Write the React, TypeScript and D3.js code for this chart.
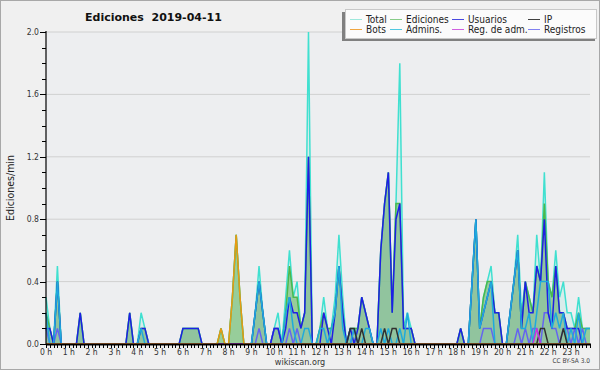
import React from "react";
import * as d3 from "d3";

const W = 600;
const H = 370;

const hours = d3.range(24);
const hourLabels = hours.map((h) => `${h} h`);
const yMajor = [0, 0.4, 0.8, 1.2, 1.6, 2.0];
const yMinor = d3.range(0, 21).map((v) => v / 10);

// values per 10-minute slot (6 per hour), edits per minute
const total = [
  0.3, 0.1, 0, 0.5, 0, 0,
  0, 0, 0, 0.2, 0, 0,
  0, 0, 0, 0, 0, 0,
  0, 0, 0, 0, 0.2, 0,
  0, 0.2, 0.1, 0, 0, 0,
  0, 0, 0, 0, 0, 0,
  0.1, 0.1, 0.1, 0.1, 0.1, 0,
  0, 0, 0, 0, 0.1, 0,
  0, 0.3, 0.7, 0.3, 0, 0,
  0, 0.2, 0.5, 0.2, 0, 0,
  0.1, 0.2, 0, 0.3, 0.6, 0.3,
  0.4, 0.1, 0.2, 2.0, 0, 0,
  0.1, 0.3, 0.1, 0.1, 0.3, 0.7,
  0.3, 0, 0.1, 0.1, 0.1, 0.3,
  0.2, 0.1, 0, 0, 0.6, 0.9,
  1.1, 0.2, 0.9, 1.8, 0.1, 0.2,
  0.1, 0, 0, 0, 0, 0,
  0, 0, 0, 0, 0, 0,
  0, 0.1, 0, 0, 0.4, 0.8,
  0.1, 0.3, 0.4, 0.5, 0.2, 0.2,
  0, 0, 0.2, 0.4, 0.7, 0.2,
  0.4, 0.3, 0.2, 0.7, 0.4, 1.1,
  0.4, 0.3, 0.6, 0.3, 0.4, 0.2,
  0.2, 0.1, 0.3, 0.1, 0.1, 0.1,
];

const edits = [
  0.2, 0.1, 0, 0.4, 0, 0,
  0, 0, 0, 0.2, 0, 0,
  0, 0, 0, 0, 0, 0,
  0, 0, 0, 0, 0.2, 0,
  0, 0.1, 0.1, 0, 0, 0,
  0, 0, 0, 0, 0, 0,
  0.1, 0.1, 0.1, 0.1, 0.1, 0,
  0, 0, 0, 0, 0.1, 0,
  0, 0.3, 0.7, 0.3, 0, 0,
  0, 0.2, 0.4, 0.2, 0, 0,
  0.1, 0.1, 0, 0.2, 0.5, 0.3,
  0.3, 0.1, 0.2, 1.2, 0, 0,
  0.1, 0.2, 0.1, 0.1, 0.2, 0.5,
  0.2, 0, 0.1, 0.1, 0.1, 0.3,
  0.2, 0.1, 0, 0, 0.6, 0.9,
  1.1, 0.2, 0.9, 0.9, 0.1, 0.1,
  0.1, 0, 0, 0, 0, 0,
  0, 0, 0, 0, 0, 0,
  0, 0.1, 0, 0, 0.4, 0.8,
  0.1, 0.3, 0.4, 0.4, 0.2, 0.2,
  0, 0, 0.2, 0.4, 0.6, 0.1,
  0.4, 0.3, 0.2, 0.5, 0.4, 0.9,
  0.4, 0.3, 0.5, 0.2, 0.2, 0.1,
  0.1, 0.1, 0.2, 0.1, 0.1, 0.1,
];

const users = [
  0.1, 0.1, 0, 0.4, 0, 0,
  0, 0, 0, 0.2, 0, 0,
  0, 0, 0, 0, 0, 0,
  0, 0, 0, 0, 0.2, 0,
  0, 0.1, 0.1, 0, 0, 0,
  0, 0, 0, 0, 0, 0,
  0.1, 0.1, 0.1, 0.1, 0.1, 0,
  0, 0, 0, 0, 0, 0,
  0, 0, 0, 0, 0, 0,
  0, 0.2, 0.4, 0.2, 0, 0,
  0.1, 0.1, 0, 0.1, 0.3, 0.2,
  0.2, 0.1, 0.2, 1.2, 0, 0,
  0, 0.2, 0.1, 0, 0.2, 0.5,
  0.2, 0, 0.1, 0, 0.1, 0.3,
  0.2, 0.1, 0, 0, 0.6, 0.9,
  1.1, 0.2, 0.8, 0.9, 0.1, 0.1,
  0.1, 0, 0, 0, 0, 0,
  0, 0, 0, 0, 0, 0,
  0, 0.1, 0, 0, 0.4, 0.8,
  0.1, 0.2, 0.3, 0.4, 0.2, 0.2,
  0, 0, 0.2, 0.4, 0.6, 0.1,
  0.4, 0.2, 0.2, 0.5, 0.4, 0.8,
  0.2, 0.1, 0.5, 0.2, 0.2, 0.1,
  0.1, 0.1, 0.1, 0, 0, 0,
];

const ip = [
  0, 0, 0, 0, 0, 0,
  0, 0, 0, 0, 0, 0,
  0, 0, 0, 0, 0, 0,
  0, 0, 0, 0, 0, 0,
  0, 0, 0, 0, 0, 0,
  0, 0, 0, 0, 0, 0,
  0, 0, 0, 0, 0, 0,
  0, 0, 0, 0, 0, 0,
  0, 0, 0, 0, 0, 0,
  0, 0, 0, 0, 0, 0,
  0, 0, 0, 0, 0, 0,
  0, 0, 0, 0, 0, 0,
  0, 0, 0, 0, 0, 0,
  0, 0, 0.1, 0.1, 0, 0.1,
  0, 0, 0, 0, 0, 0.1,
  0, 0.1, 0.1, 0, 0, 0,
  0, 0, 0, 0, 0, 0,
  0, 0, 0, 0, 0, 0,
  0, 0, 0, 0, 0, 0,
  0, 0, 0, 0, 0, 0,
  0, 0, 0, 0, 0, 0,
  0, 0, 0, 0, 0.1, 0.1,
  0, 0, 0, 0, 0.1, 0,
  0, 0, 0, 0, 0, 0,
];

const bots = [
  0, 0, 0, 0, 0, 0,
  0, 0, 0, 0, 0, 0,
  0, 0, 0, 0, 0, 0,
  0, 0, 0, 0, 0, 0,
  0, 0, 0, 0, 0, 0,
  0, 0, 0, 0, 0, 0,
  0, 0, 0, 0, 0, 0,
  0, 0, 0, 0, 0.1, 0,
  0, 0.3, 0.7, 0.3, 0, 0,
  0, 0, 0, 0, 0, 0,
  0, 0, 0, 0, 0, 0,
  0, 0, 0, 0, 0, 0,
  0, 0, 0, 0, 0, 0,
  0, 0, 0, 0, 0, 0,
  0, 0, 0, 0, 0, 0,
  0, 0, 0, 0, 0, 0,
  0, 0, 0, 0, 0, 0,
  0, 0, 0, 0, 0, 0,
  0, 0, 0, 0, 0, 0,
  0, 0, 0, 0, 0, 0,
  0, 0, 0, 0, 0, 0,
  0, 0, 0, 0, 0, 0,
  0, 0, 0, 0, 0, 0,
  0, 0, 0, 0, 0, 0,
];

const admins = [
  0.2, 0, 0, 0.4, 0, 0,
  0, 0, 0, 0, 0, 0,
  0, 0, 0, 0, 0, 0,
  0, 0, 0, 0, 0, 0,
  0, 0.1, 0, 0, 0, 0,
  0, 0, 0, 0, 0, 0,
  0, 0, 0, 0, 0, 0,
  0, 0, 0, 0, 0, 0,
  0, 0, 0, 0, 0, 0,
  0, 0.2, 0.4, 0.2, 0, 0,
  0, 0, 0, 0.2, 0.3, 0.1,
  0, 0, 0.1, 0.1, 0, 0,
  0.1, 0.1, 0, 0.1, 0.2, 0.5,
  0.1, 0, 0, 0.1, 0, 0,
  0.1, 0.1, 0, 0, 0.1, 0,
  0.1, 0, 0, 0.1, 0, 0.2,
  0, 0, 0, 0, 0, 0,
  0, 0, 0, 0, 0, 0,
  0, 0, 0, 0, 0.4, 0.8,
  0.1, 0.2, 0.3, 0.4, 0, 0,
  0, 0, 0.2, 0.4, 0.6, 0.1,
  0.1, 0.2, 0, 0.2, 0.4, 0.4,
  0.4, 0.1, 0.2, 0.1, 0.2, 0,
  0.1, 0, 0.2, 0, 0.1, 0.1,
];

const regAdm = [
  0, 0, 0, 0, 0, 0,
  0, 0, 0, 0, 0, 0,
  0, 0, 0, 0, 0, 0,
  0, 0, 0, 0, 0, 0,
  0, 0, 0, 0, 0, 0,
  0, 0, 0, 0, 0, 0,
  0, 0, 0, 0, 0, 0,
  0, 0, 0, 0, 0, 0,
  0, 0, 0, 0, 0, 0,
  0, 0, 0, 0, 0, 0,
  0, 0, 0, 0, 0, 0,
  0, 0, 0, 0, 0, 0,
  0, 0, 0, 0, 0, 0,
  0, 0, 0, 0, 0, 0,
  0, 0, 0, 0, 0, 0,
  0, 0, 0, 0, 0, 0,
  0, 0, 0, 0, 0, 0,
  0, 0, 0, 0, 0, 0,
  0, 0, 0, 0, 0, 0,
  0, 0, 0, 0, 0, 0,
  0, 0, 0, 0, 0, 0,
  0, 0, 0, 0.1, 0, 0,
  0, 0, 0, 0, 0, 0,
  0, 0, 0, 0, 0, 0,
];

const registros = [
  0.1, 0, 0, 0.1, 0, 0,
  0, 0, 0, 0, 0, 0,
  0, 0, 0, 0, 0, 0,
  0, 0, 0, 0, 0, 0,
  0, 0, 0, 0, 0, 0,
  0, 0, 0, 0, 0, 0,
  0, 0, 0, 0, 0, 0,
  0, 0, 0, 0, 0, 0,
  0, 0, 0, 0, 0, 0,
  0, 0, 0.1, 0, 0, 0,
  0.1, 0.1, 0, 0, 0.1, 0,
  0.1, 0, 0, 0, 0, 0,
  0, 0, 0, 0, 0, 0,
  0, 0, 0, 0.1, 0, 0,
  0, 0, 0, 0, 0, 0,
  0, 0, 0, 0, 0, 0,
  0, 0, 0, 0, 0, 0,
  0, 0, 0, 0, 0, 0,
  0, 0, 0, 0, 0, 0,
  0, 0.1, 0.1, 0.1, 0, 0,
  0, 0, 0, 0, 0.1, 0,
  0.1, 0, 0.1, 0.1, 0, 0.2,
  0.2, 0.1, 0.1, 0, 0.1, 0.1,
  0, 0.1, 0, 0.1, 0, 0,
];

const seriesNames = ["Total", "Ediciones", "Usuarios", "IP", "Bots", "Admins.", "Reg. de adm.", "Registros"];
const seriesColors = ["#40e0d0", "#4cb84c", "#1e1ee6", "#303030", "#e89a14", "#1eaadc", "#c832dc", "#6464f0"];
const legendColors = ["#9ee8dc", "#88cc88", "#4a4ae0", "#404040", "#f0a640", "#50c8e0", "#d060e0", "#8080f0"];

const PL = 46, PR = 590, PT = 32, PB = 344;

export default function App() {
  const n = total.length;
  const x = d3.scaleLinear().domain([0, n - 1]).range([PL, PR]);
  const y = d3.scaleLinear().domain([0, 2.0]).range([PB, PT]);
  const line = d3.line<number>().x((_, i) => x(i)).y((d) => y(d));
  const area = d3.area<number>().x((_, i) => x(i)).y0(y(0)).y1((d) => y(d));

  const data = [total, edits, users, ip, bots, admins, regAdm, registros];
  // drawing order for lines
  const order = [0, 1, 7, 2, 5, 3, 6, 4];

  const small = "'DejaVu Sans Condensed', 'DejaVu Sans', sans-serif";
  const legendCols = [350, 390, 452, 528];
  const legendRows = [19, 29];

  return (
    <div style={{ position: "absolute", left: 0, top: 0 }}>
      <svg width={W} height={H} style={{ display: "block" }}>
        <rect x={0.5} y={0.5} width={W - 1} height={H - 1} fill="#f0f0f0" stroke="#a8a8a8" />
        <rect x={PL} y={PT} width={PR - PL} height={PB - PT} fill="#edeef0" />
        {/* grid */}
        {yMajor.filter((v) => v > 0).map((v) => (
          <line key={`g${v}`} x1={PL} x2={PR} y1={y(v)} y2={y(v)} stroke="#d0d0d0" strokeWidth={1} />
        ))}
        {/* areas */}
        <path d={area(total) || ""} fill="#40e0d0" fillOpacity={0.12} />
        <path d={area(edits) || ""} fill="rgb(140,200,140)" fillOpacity={0.85} />
        <path d={area(users) || ""} fill="#1e1ee6" fillOpacity={0.05} />
        {/* lines */}
        {order.map((k) => (
          <path key={`l${k}`} d={line(data[k]) || ""} fill="none" stroke={seriesColors[k]} strokeWidth={1.5} strokeLinejoin="miter" />
        ))}
        {/* axes */}
        <line x1={PL} x2={PL} y1={PT - 1} y2={PB + 1} stroke="#000" strokeWidth={1.2} />
        <line x1={PL} x2={PR + 1} y1={PB + 0.5} y2={PB + 0.5} stroke="#000" strokeWidth={2} />
        {yMinor.map((v) => {
          const major = yMajor.some((m) => Math.abs(m - v) < 1e-6);
          return (
            <line key={`yt${v}`} x1={major ? PL - 6 : PL - 4} x2={PL} y1={Math.round(y(v)) + 0.5} y2={Math.round(y(v)) + 0.5} stroke="#000" strokeWidth={1} />
          );
        })}
        {yMajor.map((v) => (
          <text key={`yl${v}`} x={PL - 7} y={y(v) + 3} textAnchor="end" fontSize={8.5} fontFamily={small} fill="#333">
            {v.toFixed(1)}
          </text>
        ))}
        {d3.range(n).map((i) => (
          <line key={`xt${i}`} x1={Math.round(x(i)) + 0.5} x2={Math.round(x(i)) + 0.5} y1={PB + 1} y2={PB + 4} stroke="#000" strokeWidth={1} />
        ))}
        {hours.map((h) => (
          <text key={`xl${h}`} x={x(h * 6)} y={355} textAnchor="middle" fontSize={8.5} fontFamily={small} fill="#333">
            {hourLabels[h]}
          </text>
        ))}
        {/* y label */}
        <text transform={`translate(14,188) rotate(-90)`} textAnchor="middle" fontSize={10.5} fontFamily={small} fill="#222">
          Ediciones/min
        </text>
        {/* title */}
        <text x={85} y={21} fontSize={11} fontWeight="bold" fontFamily="'DejaVu Sans', sans-serif" fill="#111" style={{ whiteSpace: "pre" }}>
          {"Ediciones  2019-04-11"}
        </text>
        {/* footer */}
        <text x={300} y={365} textAnchor="middle" fontSize={9} fontFamily={small} fill="#333">
          wikiscan.org
        </text>
        <text x={590} y={363} textAnchor="end" fontSize={6.5} fontFamily={small} fill="#444">
          CC BY-SA 3.0
        </text>
        {/* legend */}
        <rect x={342} y={12} width={253} height={29} fill="#808080" />
        <rect x={345.5} y={9.5} width={251} height={29} fill="#fbfbfb" stroke="#c8c8c8" />
        {seriesNames.map((name, k) => {
          const col = k % 4;
          const row = Math.floor(k / 4);
          const lx = legendCols[col];
          const ly = legendRows[row];
          return (
            <g key={`lg${k}`}>
              <line x1={lx} x2={lx + 12} y1={ly + 0.5} y2={ly + 0.5} stroke={legendColors[k]} strokeWidth={1} />
              <text x={lx + 16} y={ly + 3.5} fontSize={10} fontFamily={small} fill="#222">
                {name}
              </text>
            </g>
          );
        })}
      </svg>
    </div>
  );
}
